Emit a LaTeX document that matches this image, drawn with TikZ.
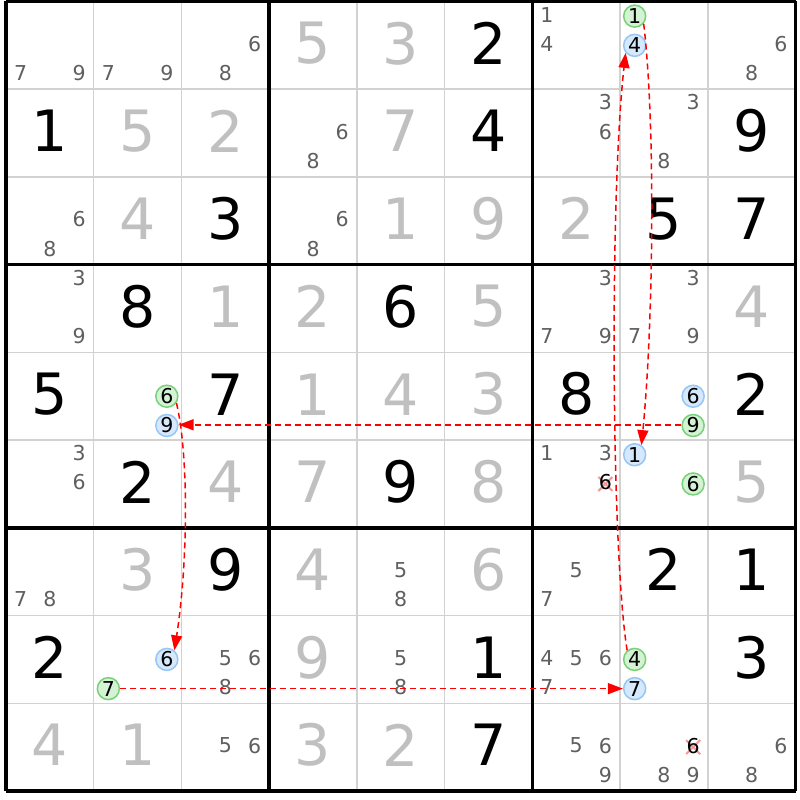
\documentclass[tikz,border=0pt]{standalone}
\usepackage{fontspec}
\setmainfont{DejaVu Sans}
\usetikzlibrary{arrows.meta}
\definecolor{candcol}{RGB}{95,95,95}
\definecolor{givgray}{RGB}{192,192,192}
\definecolor{thinline}{RGB}{210,210,210}
\definecolor{gstroke}{RGB}{120,208,120}
\definecolor{gfill}{RGB}{212,242,212}
\definecolor{bstroke}{RGB}{150,198,245}
\definecolor{bfill}{RGB}{214,232,251}
\definecolor{xcol}{RGB}{245,150,150}
\definecolor{chainred}{RGB}{255,0,0}
\begin{document}
\begin{tikzpicture}[x=1pt,y=-1pt,
  declare function={cx(\c)=6+(\c-0.5)*87.72; cy(\r)=1.5+(\r-0.5)*87.72;
    kx(\c,\k)=6+(\c-1)*87.72+14.62+mod(\k-1,3)*29.24;
    ky(\r,\k)=1.5+(\r-1)*87.72+14.62+floor((\k-1)/3)*29.24;},
  bigblack/.style={inner sep=0pt, font=\fontsize{57}{57}\selectfont, text=black},
  biggray/.style={inner sep=0pt, font=\fontsize{57}{57}\selectfont, text=givgray},
  cand/.style={inner sep=0pt, font=\fontsize{20.5}{20.5}\selectfont, text=candcol},
  gcirc/.style={circle, draw=gstroke, fill=gfill, line width=1.5pt, minimum size=22pt, inner sep=0pt, font=\fontsize{20.5}{20.5}\selectfont, text=black},
  bcirc/.style={circle, draw=bstroke, fill=bfill, line width=1.5pt, minimum size=22pt, inner sep=0pt, font=\fontsize{20.5}{20.5}\selectfont, text=black},
  elim/.style={inner sep=0pt, font=\fontsize{20.5}{20.5}\selectfont, text=black},
  xmark/.style={draw=xcol, line width=2pt},
  chain/.style={draw=chainred, line width=1.5pt, dash pattern=on 6pt off 4pt, -{Triangle[length=15pt,width=11pt]}},
  thin grid/.style={draw=thinline, line width=1.5pt},
  thick grid/.style={draw=black, line width=3.5pt}]
\useasboundingbox (0,0) rectangle (800,800);
\fill[white] (0,0) rectangle (800,800);
% thin grid lines
\foreach \i in {1,2,4,5,7,8}{
  \draw[thin grid] ({6+\i*87.72},1.5) -- ({6+\i*87.72},791);
  \draw[thin grid] (6,{1.5+\i*87.72}) -- (795.5,{1.5+\i*87.72});
}
% thick lines
\foreach \i in {0,3,6,9}{
  \draw[thick grid] ({6+\i*87.72},1.5) -- ({6+\i*87.72},791);
  \draw[thick grid] (6,{1.5+\i*87.72}) -- (795.5,{1.5+\i*87.72});
}
% given (black)
\foreach \r/\c/\d in {1/6/2, 2/1/1, 2/6/4, 2/9/9, 3/3/3, 3/8/5, 3/9/7, 4/2/8, 4/5/6,
  5/1/5, 5/3/7, 5/7/8, 5/9/2, 6/2/2, 6/5/9, 7/3/9, 7/8/2, 7/9/1, 8/1/2, 8/6/1, 8/9/3, 9/6/7}
  \node[bigblack] (v-\r-\c) at ({cx(\c)},{cy(\r)-2}) {\d};
% gray digits
\foreach \r/\c/\d in {1/4/5, 1/5/3, 2/2/5, 2/3/2, 2/5/7, 3/2/4, 3/5/1, 3/6/9, 3/7/2,
  4/3/1, 4/4/2, 4/6/5, 4/9/4, 5/4/1, 5/5/4, 5/6/3, 6/3/4, 6/4/7, 6/6/8, 6/9/5,
  7/2/3, 7/4/4, 7/6/6, 8/4/9, 9/1/4, 9/2/1, 9/4/3, 9/5/2}
  \node[biggray] (v-\r-\c) at ({cx(\c)},{cy(\r)-2}) {\d};
% candidates
\foreach \r/\c/\k in {1/1/7, 1/1/9, 1/2/7, 1/2/9, 1/3/6, 1/3/8, 1/7/1, 1/7/4, 1/9/6, 1/9/8,
  2/4/6, 2/4/8, 2/7/3, 2/7/6, 2/8/3, 2/8/8, 3/1/6, 3/1/8, 3/4/6, 3/4/8,
  4/1/3, 4/1/9, 4/7/3, 4/7/7, 4/7/9, 4/8/3, 4/8/7, 4/8/9, 6/1/3, 6/1/6, 6/7/1, 6/7/3,
  7/1/7, 7/1/8, 7/5/5, 7/5/8, 7/7/5, 7/7/7, 8/3/5, 8/3/6, 8/3/8, 8/5/5, 8/5/8,
  8/7/4, 8/7/5, 8/7/6, 8/7/7, 9/3/5, 9/3/6, 9/7/5, 9/7/6, 9/7/9, 9/8/8, 9/8/9, 9/9/6, 9/9/8}
  \node[cand] (k-\r-\c-\k) at ({kx(\c,\k)},{ky(\r,\k)-1.5}) {\k};
% eliminated candidates
\foreach \r/\c/\k in {6/7/6, 9/8/6}{
  \draw[xmark] ({kx(\c,\k)-7},{ky(\r,\k)-7}) -- ({kx(\c,\k)+7},{ky(\r,\k)+7});
  \draw[xmark] ({kx(\c,\k)-7},{ky(\r,\k)+7}) -- ({kx(\c,\k)+7},{ky(\r,\k)-7});
  \node[elim] (k-\r-\c-\k) at ({kx(\c,\k)},{ky(\r,\k)-1.5}) {\k};
}
% circled candidates
\foreach \r/\c/\k in {1/8/1, 5/2/6, 5/8/9, 6/8/6, 8/2/7, 8/8/4}
  \node[gcirc] (k-\r-\c-\k) at ({kx(\c,\k)},{ky(\r,\k)}) {\k};
\foreach \r/\c/\k in {1/8/4, 5/2/9, 5/8/6, 6/8/1, 8/2/6, 8/8/7}
  \node[bcirc] (k-\r-\c-\k) at ({kx(\c,\k)},{ky(\r,\k)}) {\k};
% chain
\draw[chain] (k-1-8-1.-40) .. controls +(12,100) and +(12,-120) .. (k-6-8-1.55);
\draw[chain] ([yshift=0.7pt]k-5-8-9.west) -- ([yshift=0.7pt]k-5-2-9.east);
\draw[chain] (k-5-2-6.-35) .. controls +(12,50) and +(14,-90) .. (k-8-2-6.50);
\draw[chain] (k-8-2-7.east) -- (k-8-8-7.west);
\draw[chain] (k-8-8-4.130) .. controls +(-16,-100) and +(-16,140) .. (k-1-8-4.-140);
\end{tikzpicture}
\end{document}
